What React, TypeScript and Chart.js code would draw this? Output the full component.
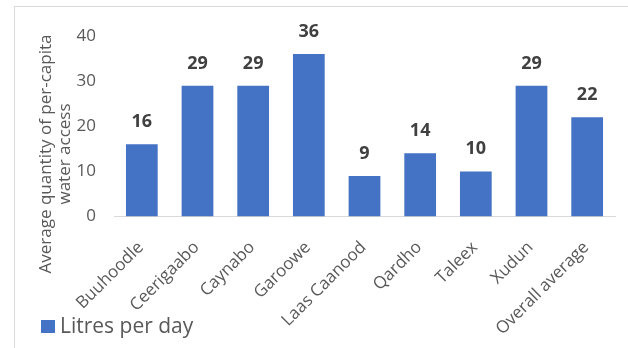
import React, { useEffect, useRef } from 'react';
import { Chart, registerables } from 'chart.js';

Chart.register(...registerables);

const categories = ['Buuhoodle', 'Ceerigaabo', 'Caynabo', 'Garoowe', 'Laas Caanood', 'Qardho', 'Taleex', 'Xudun', 'Overall average'];
const litresPerDay = [16, 29, 29, 36, 9, 14, 10, 29, 22];
const seriesLabel = 'Litres per day';
const yTitleLines = ['Average quantity of per-capita', 'water access'];
const yMin = 0;
const yMax = 40;
const yStep = 10;

const FONT = '"Open Sans", sans-serif';
const BAR = '#4472C4';
const TEXT = '#595959';

export default function App() {
  const ref = useRef<HTMLCanvasElement>(null);

  useEffect(() => {
    if (!ref.current) return;

    const valueLabels = {
      id: 'valueLabels',
      afterDatasetsDraw(chart: any) {
        const ctx = chart.ctx;
        const meta = chart.getDatasetMeta(0);
        const data = chart.data.datasets[0].data;
        ctx.save();
        ctx.font = `bold 18px ${FONT}`;
        ctx.fillStyle = '#404040';
        ctx.textAlign = 'center';
        ctx.textBaseline = 'alphabetic';
        meta.data.forEach((bar: any, i: number) => {
          ctx.fillText(String(data[i]), bar.x, bar.y - 17);
        });
        ctx.restore();
      },
    };

    const yTitle = {
      id: 'yTitle',
      afterDraw(chart: any) {
        const ctx = chart.ctx;
        ctx.save();
        ctx.font = `17px ${FONT}`;
        ctx.fillStyle = TEXT;
        ctx.textAlign = 'center';
        ctx.textBaseline = 'alphabetic';
        ctx.translate(51, 154);
        ctx.rotate(-Math.PI / 2);
        yTitleLines.forEach((line, i) => ctx.fillText(line, 0, i * 19));
        ctx.restore();
      },
    };

    const bottomLegend = {
      id: 'bottomLegend',
      afterDraw(chart: any) {
        const ctx = chart.ctx;
        const ds = chart.data.datasets[0];
        ctx.save();
        ctx.fillStyle = ds.backgroundColor;
        ctx.fillRect(41, 320, 14, 13);
        ctx.font = `21px ${FONT}`;
        ctx.fillStyle = TEXT;
        ctx.textAlign = 'left';
        ctx.textBaseline = 'alphabetic';
        ctx.fillText(ds.label, 60, 333);
        ctx.restore();
      },
    };

    const chart = new Chart(ref.current, {
      type: 'bar',
      data: {
        labels: categories,
        datasets: [
          {
            label: seriesLabel,
            data: litresPerDay,
            backgroundColor: BAR,
            borderWidth: 0,
            barPercentage: 0.57,
            categoryPercentage: 1,
          },
        ],
      },
      options: {
        responsive: false,
        animation: false,
        layout: { padding: { left: 0, right: 13, top: 36, bottom: 0 } },
        plugins: {
          legend: { display: false },
          tooltip: { enabled: false },
        },
        scales: {
          x: {
            grid: { display: false, drawTicks: false },
            border: { display: true, color: '#D9D9D9', width: 1 },
            ticks: {
              autoSkip: false,
              minRotation: 45,
              maxRotation: 45,
              padding: 21,
              labelOffset: -1,
              color: TEXT,
              font: { family: FONT, size: 17 },
            },
            afterFit(scale: any) {
              scale.height = 131.5;
            },
          },
          y: {
            min: yMin,
            max: yMax,
            grid: { display: false, drawTicks: false },
            border: { display: false },
            ticks: {
              stepSize: yStep,
              padding: 18,
              color: TEXT,
              font: { family: FONT, size: 17 },
            },
            afterFit(scale: any) {
              scale.width = 114;
            },
          },
        },
      },
      plugins: [valueLabels, yTitle, bottomLegend],
    });

    return () => chart.destroy();
  }, []);

  return (
    <div style={{ position: 'fixed', left: 0, top: 0, width: 628, height: 348, background: '#fff', overflow: 'hidden' }}>
      <div
        style={{
          position: 'absolute',
          left: 14,
          top: 6,
          width: 700,
          height: 400,
          border: '1px solid #D9D9D9',
          boxSizing: 'border-box',
        }}
      />
      <canvas ref={ref} width={628} height={348} style={{ position: 'absolute', left: 0, top: 0, display: 'block' }} />
    </div>
  );
}
